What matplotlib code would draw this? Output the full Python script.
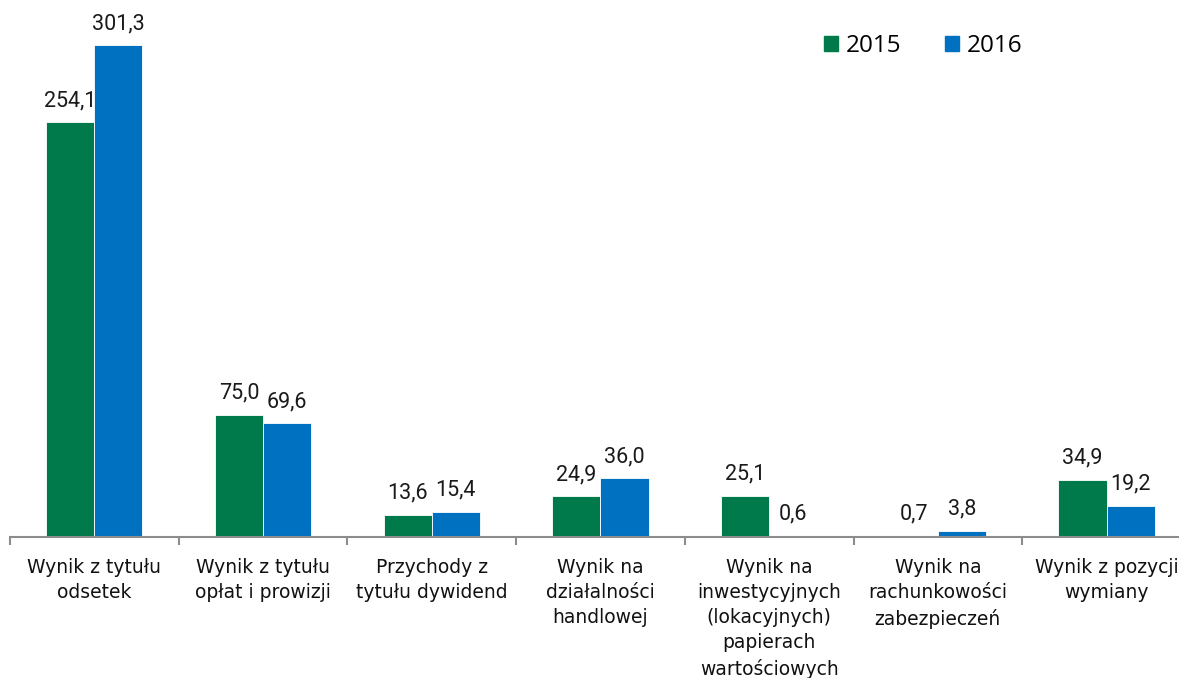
import numpy as np
import matplotlib
matplotlib.use('Agg')
from matplotlib import pyplot as plt
from matplotlib.patches import Patch

# dane
kategorie = ['Wynik z tytułu\nodsetek', 'Wynik z tytułu\nopłat i prowizji',
             'Przychody z\ntytułu dywidend', 'Wynik na\ndziałalności\nhandlowej',
             'Wynik na\ninwestycyjnych\n(lokacyjnych)\npapierach\nwartościowych',
             'Wynik na\nrachunkowości\nzabezpieczeń', 'Wynik z pozycji\nwymiany']
wartosci_2015 = [254.1, 75.0, 13.6, 24.9, 25.1, 0.7, 34.9]
wartosci_2016 = [301.3, 69.6, 15.4, 36.0, 0.6, 3.8, 19.2]
etykiety_2015 = ['254,1', '75,0', '13,6', '24,9', '25,1', '0,7', '34,9']
etykiety_2016 = ['301,3', '69,6', '15,4', '36,0', '0,6', '3,8', '19,2']

zielony = '#007A4B'
niebieski = '#0070C0'

fig = plt.figure(figsize=(11.79, 6.78), dpi=100)
ax = fig.add_axes([10 / 1179, 141 / 678, 1169 / 1179, 537 / 678])

x = np.arange(len(kategorie))
w = 0.285
ax.bar(x - w / 2, wartosci_2015, w, color=zielony, edgecolor='white', linewidth=0.6)
ax.bar(x + w / 2, wartosci_2016, w, color=niebieski, edgecolor='white', linewidth=0.6)

# etykiety wartosci
for i in range(len(x)):
    ax.annotate(etykiety_2015[i], (x[i] - w / 2, wartosci_2015[i]), xytext=(0, 8),
                textcoords='offset points', ha='center', va='bottom',
                fontsize=15.5, family='Roboto', color='#1a1a1a')
    ax.annotate(etykiety_2016[i], (x[i] + w / 2, wartosci_2016[i]), xytext=(0, 8),
                textcoords='offset points', ha='center', va='bottom',
                fontsize=15.5, family='Roboto', color='#1a1a1a')

for s in ['top', 'right', 'left']:
    ax.spines[s].set_visible(False)
ax.spines['bottom'].set_color('#8c8c8c')
ax.spines['bottom'].set_linewidth(1.5)
ax.set_yticks([])

# podzialki miedzy kategoriami
ax.set_xticks(np.arange(len(kategorie) + 1) - 0.5)
ax.set_xticklabels([])
ax.tick_params(axis='x', length=6, width=1.5, color='#8c8c8c', direction='out')

ax.set_xlim(-0.5, 1169 / 168.7 - 0.5)
ax.set_ylim(0, 328.9)

for i, k in enumerate(kategorie):
    ax.text(x[i], -13, k, ha='center', va='top', fontsize=13.5, family='DejaVu Sans',
            linespacing=1.4, color='#111111', clip_on=False)

uchwyty = [Patch(color=zielony), Patch(color=niebieski)]
fig.legend(uchwyty, ['2015', '2016'], loc='center', bbox_to_anchor=(923 / 1179, 1 - 46 / 678),
           ncol=2, frameon=False, prop={'family': 'Open Sans', 'size': 17.5},
           handlelength=0.6, handleheight=0.6, handletextpad=0.3, columnspacing=1.8)

plt.savefig('out.png', dpi=100)
